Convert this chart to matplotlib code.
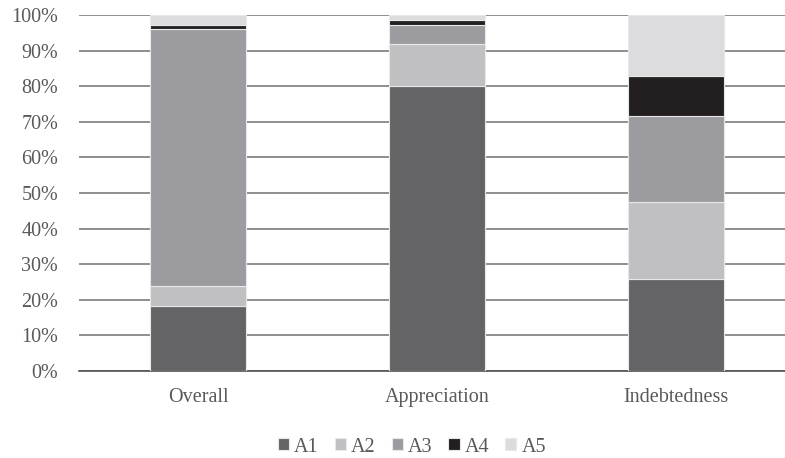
import numpy as np
import matplotlib.pyplot as plt

plt.rcParams['font.family'] = ['Liberation Serif', 'DejaVu Serif']

# data (percent of each category)
categories = ['Overall', 'Appreciation', 'Indebtedness']
series = ['A1', 'A2', 'A3', 'A4', 'A5']
A1 = [18.2, 80.1, 25.8]
A2 = [5.8, 11.8, 21.6]
A3 = [72.1, 5.3, 24.2]
A4 = [1.2, 1.4, 11.3]
A5 = [2.7, 1.4, 17.1]
values = [A1, A2, A3, A4, A5]
colors = ['#646466', '#c0c0c3', '#9c9ca0', '#231f20', '#dcdcdf']

fig = plt.figure(figsize=(7.85, 4.58), dpi=100)
ax = fig.add_axes([79/785, 87/458, 1 - 79/785, 356/458])

x = np.arange(len(categories))
bottom = np.zeros(len(categories))
for name, vals, col in zip(series, values, colors):
    ax.bar(x, vals, 0.4, bottom=bottom, color=col, label=name,
           edgecolor='#e8e8ea', linewidth=0.8, zorder=3)
    bottom += np.array(vals)

ax.set_ylim(0, 100)
ax.set_xlim(-0.498, 2.456)
ax.set_yticks(np.arange(0, 101, 10))
ax.set_yticklabels(['{}%'.format(v) for v in range(0, 101, 10)])
ax.set_xticks(x)
ax.set_xticklabels(categories)
ax.yaxis.grid(True, color='#868686', linewidth=1.3, zorder=0)
ax.set_axisbelow(True)
for s in ['top', 'right', 'left']:
    ax.spines[s].set_visible(False)
ax.spines['bottom'].set_color('#505050')
ax.spines['bottom'].set_linewidth(1.2)
ax.tick_params(axis='both', length=0, labelsize=14.5, labelcolor='#595959')
ax.tick_params(axis='x', pad=12)
ax.tick_params(axis='y', pad=15)

fig.legend(loc='center', bbox_to_anchor=(412/785, 1 - 447/458), ncol=5,
           frameon=False, fontsize=14.5, handlelength=0.55, handleheight=0.55,
           handletextpad=0.25, columnspacing=0.8, labelcolor='#595959')

fig.savefig('out.png', dpi=100)
